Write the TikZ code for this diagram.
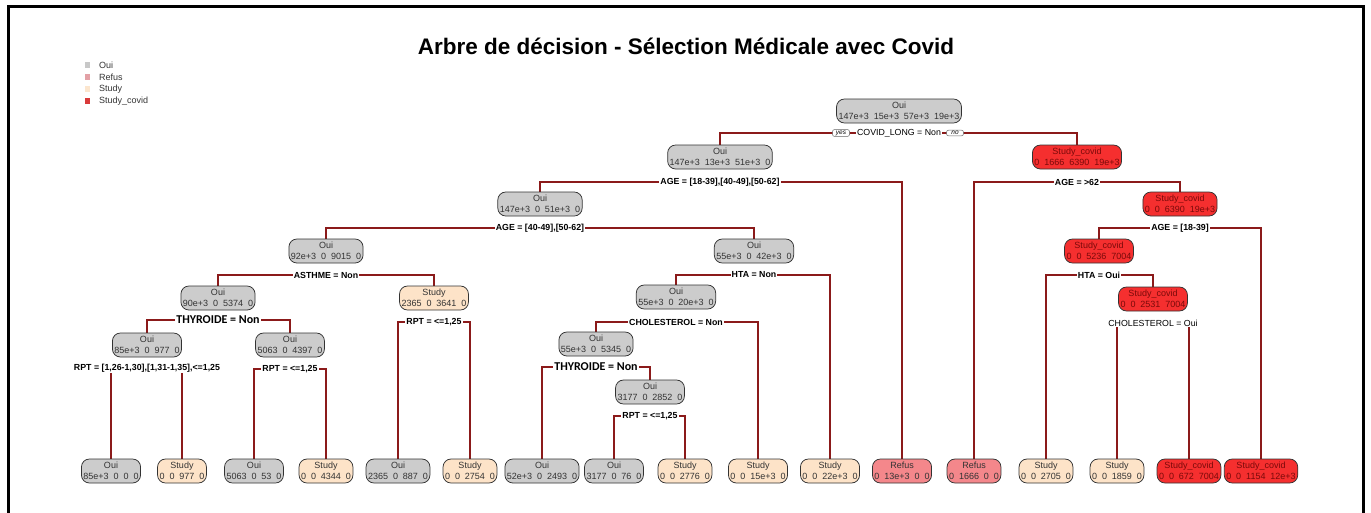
\documentclass[tikz,border=0pt]{standalone}
\usepackage{fontspec}
\setmainfont{Liberation Sans}
\newfontfamily\calfont{Carlito}
\usetikzlibrary{backgrounds}

\definecolor{ouiF}{HTML}{CCCCCC}
\definecolor{studyF}{HTML}{FDE3C8}
\definecolor{refusF}{HTML}{F4878B}
\definecolor{covidF}{HTML}{F52F2F}
\definecolor{ouiL}{HTML}{C8C8C8}
\definecolor{refusL}{HTML}{E3A1A6}
\definecolor{studyL}{HTML}{FCE6CE}
\definecolor{covidL}{HTML}{D93A3A}
\definecolor{branchC}{HTML}{8B1A1A}
\definecolor{covidT}{HTML}{7A0A0A}

\newcommand\cgap{\hspace{0.55em}}

\begin{document}
\begin{tikzpicture}[x=1pt,y=-1pt,
  tn/.style={draw=black!80, line width=0.75pt, rounded corners=8pt,
    inner xsep=2pt, inner ysep=1.5pt, minimum width=48pt, minimum height=24pt,
    align=center, text=black!80, font=\fontsize{9}{10.5}\selectfont},
  oui/.style={tn, fill=ouiF},
  study/.style={tn, fill=studyF},
  refus/.style={tn, fill=refusF},
  covid/.style={tn, fill=covidF, text=covidT},
  splab/.style={fill=white, inner xsep=1pt, inner ysep=1pt, text=black,
    font=\fontsize{8.8}{10}\selectfont\bfseries},
  splabr/.style={splab, font=\fontsize{8.8}{10}\selectfont},
  thylab/.style={splab, font=\fontsize{12}{13}\selectfont\calfont\bfseries},
  yn/.style={draw=black!60, fill=white, line width=0.5pt, rounded corners=2pt,
    inner xsep=2pt, inner ysep=1pt, minimum width=17pt,
    font=\fontsize{6.5}{7}\selectfont\itshape},
  br/.style={draw=branchC, line width=1.8pt},
  legsq/.style={minimum size=5.5pt, inner sep=0pt},
  legtx/.style={anchor=west, inner sep=0pt, text=black!80, font=\fontsize{9}{10}\selectfont}
]
\useasboundingbox (0,0) rectangle (1371,512);

% frame
\draw[line width=3pt] (8,516) -- (8,6) -- (1363,6) -- (1363,516);

% title
\node[font=\fontsize{22.5}{27}\selectfont\bfseries] (title) at (686,46)
  {Arbre de décision - Sélection Médicale avec Covid};

% legend
\node[legsq, fill=ouiL] (lg1) at (87.5,65) {};
\node[legsq, fill=refusL] (lg2) at (87.5,77) {};
\node[legsq, fill=studyL] (lg3) at (87.5,89) {};
\node[legsq, fill=covidL] (lg4) at (87.5,101) {};
\node[legtx] (lt1) at (99,65) {Oui};
\node[legtx] (lt2) at (99,77) {Refus};
\node[legtx] (lt3) at (99,89) {Study};
\node[legtx] (lt4) at (99,101) {Study\_covid};

% internal nodes
\node[oui] (n1) at (899,111) {Oui\\147e+3\cgap 15e+3\cgap 57e+3\cgap 19e+3};
\node[oui] (n2) at (720,157) {Oui\\147e+3\cgap 13e+3\cgap 51e+3\cgap 0};
\node[covid] (n3) at (1077,157) {Study\_covid\\0\cgap 1666\cgap 6390\cgap 19e+3};
\node[oui] (n4) at (540,204) {Oui\\147e+3\cgap 0\cgap 51e+3\cgap 0};
\node[oui] (n6) at (326,251) {Oui\\92e+3\cgap 0\cgap 9015\cgap 0};
\node[oui] (n7) at (754,251) {Oui\\55e+3\cgap 0\cgap 42e+3\cgap 0};
\node[oui] (n8) at (218,298) {Oui\\90e+3\cgap 0\cgap 5374\cgap 0};
\node[study] (n9) at (434,298) {Study\\2365\cgap 0\cgap 3641\cgap 0};
\node[oui] (n10) at (147,345) {Oui\\85e+3\cgap 0\cgap 977\cgap 0};
\node[oui] (n11) at (290,345) {Oui\\5063\cgap 0\cgap 4397\cgap 0};
\node[oui] (n12) at (676,297) {Oui\\55e+3\cgap 0\cgap 20e+3\cgap 0};
\node[oui] (n13) at (596,344) {Oui\\55e+3\cgap 0\cgap 5345\cgap 0};
\node[oui] (n14) at (650,392) {Oui\\3177\cgap 0\cgap 2852\cgap 0};
\node[covid] (n15) at (1180,204) {Study\_covid\\0\cgap 0\cgap 6390\cgap 19e+3};
\node[covid] (n16) at (1099,251) {Study\_covid\\0\cgap 0\cgap 5236\cgap 7004};
\node[covid] (n17) at (1153,299) {Study\_covid\\0\cgap 0\cgap 2531\cgap 7004};

% leaves
\node[oui] (f1) at (111,471) {Oui\\85e+3\cgap 0\cgap 0\cgap 0};
\node[study] (f2) at (182,471) {Study\\0\cgap 0\cgap 977\cgap 0};
\node[oui] (f3) at (254,471) {Oui\\5063\cgap 0\cgap 53\cgap 0};
\node[study] (f4) at (326,471) {Study\\0\cgap 0\cgap 4344\cgap 0};
\node[oui] (f5) at (398,471) {Oui\\2365\cgap 0\cgap 887\cgap 0};
\node[study] (f6) at (470,471) {Study\\0\cgap 0\cgap 2754\cgap 0};
\node[oui] (f7) at (542,471) {Oui\\52e+3\cgap 0\cgap 2493\cgap 0};
\node[oui] (f8) at (614,471) {Oui\\3177\cgap 0\cgap 76\cgap 0};
\node[study] (f9) at (685,471) {Study\\0\cgap 0\cgap 2776\cgap 0};
\node[study] (f10) at (758,471) {Study\\0\cgap 0\cgap 15e+3\cgap 0};
\node[study] (f11) at (830,471) {Study\\0\cgap 0\cgap 22e+3\cgap 0};
\node[refus] (f12) at (902,471) {Refus\\0\cgap 13e+3\cgap 0\cgap 0};
\node[refus] (f13) at (974,471) {Refus\\0\cgap 1666\cgap 0\cgap 0};
\node[study] (f14) at (1046,471) {Study\\0\cgap 0\cgap 2705\cgap 0};
\node[study] (f15) at (1117,471) {Study\\0\cgap 0\cgap 1859\cgap 0};
\node[covid] (f16) at (1189,471) {Study\_covid\\0\cgap 0\cgap 672\cgap 7004};
\node[covid] (f17) at (1261,471) {Study\_covid\\0\cgap 0\cgap 1154\cgap 12e+3};

% split labels
\node[splabr] (s1) at (899,133) {COVID\_LONG = Non};
\node[yn] (yes) at (841,133) {yes};
\node[yn] (no) at (955,133) {no};
\node[splab] (s2) at (720,182) {AGE = [18-39],[40-49],[50-62]};
\node[splab] (s3) at (1077,182) {AGE = >62};
\node[splab] (s4) at (540,228) {AGE = [40-49],[50-62]};
\node[splab] (s6) at (326,275) {ASTHME = Non};
\node[splab] (s7) at (754,275) {HTA = Non};
\node[thylab] (s8) at (218,320) {THYROIDE = Non};
\node[splab] (s9) at (434,322) {RPT = <=1,25};
\node[splab] (s10) at (147,368) {RPT = [1,26-1,30],[1,31-1,35],<=1,25};
\node[splab] (s11) at (290,369) {RPT = <=1,25};
\node[splab] (s12) at (676,322) {CHOLESTEROL = Non};
\node[thylab] (s13) at (596,367) {THYROIDE = Non};
\node[splab] (s14) at (650,416) {RPT = <=1,25};
\node[splab] (s15) at (1180,228) {AGE = [18-39]};
\node[splab] (s16) at (1099,275) {HTA = Oui};
\node[splabr] (s17) at (1153,323) {CHOLESTEROL = Oui};

% branches
\begin{pgfonlayer}{background}
\draw[br] (s1.center) -| (n2.north);
\draw[br] (s1.center) -| (n3.north);
\draw[br] (s2.center) -| (n4.north);
\draw[br] (s2.center) -| (f12.north);
\draw[br] (s4.center) -| (n6.north);
\draw[br] (s4.center) -| (n7.north);
\draw[br] (s6.center) -| (n8.north);
\draw[br] (s6.center) -| (n9.north);
\draw[br] (s8.center) -| (n10.north);
\draw[br] (s8.center) -| (n11.north);
\draw[br] (s10.center) -| (f1.north);
\draw[br] (s10.center) -| (f2.north);
\draw[br] (s11.center) -| (f3.north);
\draw[br] (s11.center) -| (f4.north);
\draw[br] (s9.center) -| (f5.north);
\draw[br] (s9.center) -| (f6.north);
\draw[br] (s7.center) -| (n12.north);
\draw[br] (s7.center) -| (f11.north);
\draw[br] (s12.center) -| (n13.north);
\draw[br] (s12.center) -| (f10.north);
\draw[br] (s13.center) -| (f7.north);
\draw[br] (s13.center) -| (n14.north);
\draw[br] (s14.center) -| (f8.north);
\draw[br] (s14.center) -| (f9.north);
\draw[br] (s3.center) -| (f13.north);
\draw[br] (s3.center) -| (n15.north);
\draw[br] (s15.center) -| (n16.north);
\draw[br] (s15.center) -| (f17.north);
\draw[br] (s16.center) -| (f14.north);
\draw[br] (s16.center) -| (n17.north);
\draw[br] (s17.center) -| (f15.north);
\draw[br] (s17.center) -| (f16.north);
\end{pgfonlayer}
\end{tikzpicture}
\end{document}
